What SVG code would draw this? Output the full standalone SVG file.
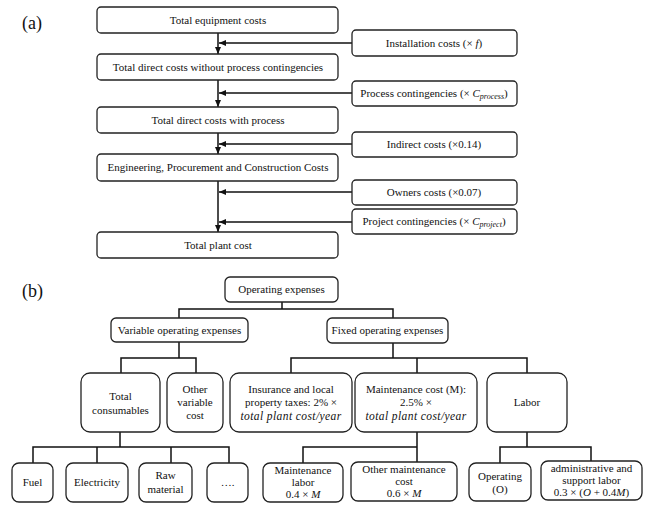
<svg xmlns="http://www.w3.org/2000/svg" width="650" height="510" viewBox="0 0 650 510">
<style>
  .bx { fill: #ffffff; stroke: #222; stroke-width: 1.3; }
  .t { font-family: 'Liberation Serif', serif; font-size: 11px; fill: #111; text-anchor: middle; }
  .m { font-style: italic; }
  .mi { font-style: italic; font-size: 11.5px; letter-spacing: 0.4px; }
  .lbl { font-family: 'Liberation Serif', serif; font-size: 18px; fill: #111; }
  .ln { fill: none; stroke: #111; stroke-width: 1.5; }
  .ar { fill: none; stroke: #111; stroke-width: 1.5; marker-end: url(#ah); }
</style>
<defs>
  <marker id="ah" markerUnits="userSpaceOnUse" markerWidth="7" markerHeight="6" refX="7" refY="3" orient="auto">
    <path d="M0,0 L7,3 L0,6 z" fill="#111"/>
  </marker>
</defs>
<rect width="650" height="510" fill="#ffffff"/>

<text class="lbl" x="22" y="29" font-family="'Liberation Serif', serif">(a)</text>
<text class="lbl" x="22" y="297" font-family="'Liberation Serif', serif">(b)</text>

<g id="connectors">
  <line class="ar" x1="218" y1="33" x2="218" y2="54"/>
  <line class="ar" x1="218" y1="80" x2="218" y2="107"/>
  <line class="ar" x1="218" y1="133" x2="218" y2="154"/>
  <line class="ar" x1="218" y1="181" x2="218" y2="232"/>
  <line class="ar" x1="352" y1="43" x2="219" y2="43"/>
  <line class="ar" x1="352" y1="93" x2="219" y2="93"/>
  <line class="ar" x1="352" y1="144" x2="219" y2="144"/>
  <line class="ar" x1="352" y1="192" x2="219" y2="192"/>
  <line class="ar" x1="352" y1="222" x2="219" y2="222"/>
  <path class="ln" d="M282,302 V309 M179,318 V309 H393 V318"/>
  <path class="ln" d="M179,342 V358 M121,373 V358 H196 V373"/>
  <path class="ln" d="M393,343 V358 M291,373 V358 H527 V373 M417,358 V373"/>
  <path class="ln" d="M120,432 V447 M33,463 V447 H229 V463 M97,447 V463 M171,447 V463"/>
  <path class="ln" d="M417,432 V462 M417,447 H303 V463"/>
  <path class="ln" d="M527,432 V447 M500,463 V447 H591 V461"/>
</g>

<g font-family="'Liberation Serif', serif">
<g id="n-total-equipment"><rect class="bx" x="97" y="7" width="241" height="26" rx="4"/><text class="t" x="218" y="24">Total equipment costs</text></g>
<g id="n-direct-without"><rect class="bx" x="97" y="54" width="241" height="26" rx="4"/><text class="t" x="218" y="71">Total direct costs without process contingencies</text></g>
<g id="n-direct-with"><rect class="bx" x="97" y="107" width="241" height="26" rx="4"/><text class="t" x="218" y="124">Total direct costs with process</text></g>
<g id="n-epc"><rect class="bx" x="97" y="154" width="241" height="27" rx="4"/><text class="t" x="218" y="171">Engineering, Procurement and Construction Costs</text></g>
<g id="n-plant"><rect class="bx" x="97" y="232" width="241" height="26" rx="4"/><text class="t" x="218" y="249">Total plant cost</text></g>

<g id="n-installation"><rect class="bx" x="352" y="30" width="165" height="26" rx="4"/><text class="t" x="434" y="47">Installation costs (× <tspan class="m">f</tspan>)</text></g>
<g id="n-process"><rect class="bx" x="352" y="81" width="165" height="25" rx="4"/><text class="t" x="434" y="97">Process contingencies (× <tspan class="m">C</tspan><tspan class="m" font-size="8" dy="2">process</tspan><tspan dy="-2">)</tspan></text></g>
<g id="n-indirect"><rect class="bx" x="352" y="132" width="165" height="25" rx="4"/><text class="t" x="434" y="148">Indirect costs (×0.14)</text></g>
<g id="n-owners"><rect class="bx" x="352" y="180" width="165" height="25" rx="4"/><text class="t" x="434" y="196">Owners costs (×0.07)</text></g>
<g id="n-project"><rect class="bx" x="352" y="209" width="165" height="25" rx="4"/><text class="t" x="434" y="225">Project contingencies (× <tspan class="m">C</tspan><tspan class="m" font-size="8" dy="2">project</tspan><tspan dy="-2">)</tspan></text></g>

<g id="n-opex"><rect class="bx" x="225" y="277" width="113" height="25" rx="5"/><text class="t" x="281.5" y="293">Operating expenses</text></g>
<g id="n-variable"><rect class="bx" x="111" y="318" width="137" height="24" rx="5"/><text class="t" x="179.5" y="334">Variable operating expenses</text></g>
<g id="n-fixed"><rect class="bx" x="327" y="318" width="121" height="25" rx="5"/><text class="t" x="387.5" y="334">Fixed operating expenses</text></g>

<g id="n-consumables"><rect class="bx" x="81" y="373" width="79" height="59" rx="9"/><text class="t" x="120.5" y="400">Total</text><text class="t" x="120.5" y="414">consumables</text></g>
<g id="n-othervar"><rect class="bx" x="167" y="373" width="56" height="59" rx="9"/><text class="t" x="195" y="393">Other</text><text class="t" x="195" y="406">variable</text><text class="t" x="195" y="419">cost</text></g>
<g id="n-insurance"><rect class="bx" x="230" y="373" width="122" height="59" rx="9"/><text class="t" x="291" y="393">Insurance and local</text><text class="t" x="291" y="406">property taxes: 2% ×</text><text class="t mi" x="291" y="420">total plant cost/year</text></g>
<g id="n-maintenance"><rect class="bx" x="355" y="373" width="122" height="59" rx="9"/><text class="t" x="416" y="393">Maintenance cost (M):</text><text class="t" x="416" y="406">2.5% ×</text><text class="t mi" x="416" y="420">total plant cost/year</text></g>
<g id="n-labor"><rect class="bx" x="487" y="373" width="80" height="59" rx="9"/><text class="t" x="527" y="406">Labor</text></g>

<g id="n-fuel"><rect class="bx" x="12" y="463" width="41" height="39" rx="7"/><text class="t" x="32.5" y="486">Fuel</text></g>
<g id="n-electricity"><rect class="bx" x="66" y="463" width="62" height="39" rx="7"/><text class="t" x="97" y="486">Electricity</text></g>
<g id="n-raw"><rect class="bx" x="139" y="463" width="53" height="39" rx="7"/><text class="t" x="165.5" y="479">Raw</text><text class="t" x="165.5" y="493">material</text></g>
<g id="n-etc"><rect class="bx" x="207" y="463" width="41" height="39" rx="7"/><text class="t" x="227.5" y="486">….</text></g>
<g id="n-mlabor"><rect class="bx" x="263" y="463" width="80" height="39" rx="7"/><text class="t" x="303" y="474">Maintenance</text><text class="t" x="303" y="486">labor</text><text class="t" x="303" y="498">0.4 × <tspan class="m">M</tspan></text></g>
<g id="n-othermaint"><rect class="bx" x="351" y="462" width="106" height="39" rx="7"/><text class="t" x="404" y="473">Other maintenance</text><text class="t" x="404" y="485">cost</text><text class="t" x="404" y="497">0.6 × <tspan class="m">M</tspan></text></g>
<g id="n-operating"><rect class="bx" x="469" y="463" width="62" height="38" rx="7"/><text class="t" x="500" y="480">Operating</text><text class="t" x="500" y="493">(O)</text></g>
<g id="n-admin"><rect class="bx" x="541" y="461" width="101" height="39" rx="7"/><text class="t" x="591.5" y="472">administrative and</text><text class="t" x="591.5" y="484">support labor</text><text class="t" x="591.5" y="496">0.3 × (<tspan class="m">O</tspan> + 0.4<tspan class="m">M</tspan>)</text></g>
</g>
</svg>
